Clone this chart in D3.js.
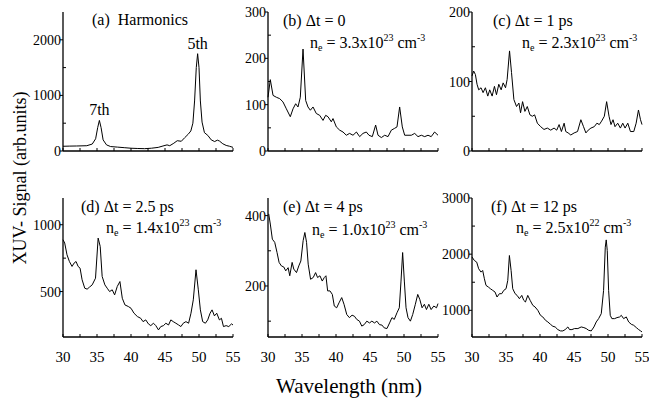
<!DOCTYPE html>
<html>
<head>
<meta charset="utf-8">
<script src="https://cdn.jsdelivr.net/npm/d3@7"></script>
<style>
  body { margin: 0; background: #fff; }
</style>
</head>
<body>
<svg id="chart" width="649" height="407"></svg>
<script>
// spectra, [wavelength nm, signal arb.units]
const harmonics = [[30,85],[31,88],[32,90],[33.5,95],[34.3,125],[34.8,220],[35.1,420],[35.35,550],[35.6,420],[35.9,200],
  [36.4,110],[37,80],[38,70],[39,60],[40,50],[41,45],[42,42],[43,50],[44,65],[44.7,90],[45.3,110],[45.7,95],[46.3,140],
  [46.8,185],[47.4,175],[47.9,240],[48.4,300],[48.8,360],[49.1,500],[49.35,900],[49.6,1500],[49.8,1750],[50,1500],
  [50.2,900],[50.45,520],[50.8,330],[51.3,280],[51.8,200],[52.3,170],[52.7,195],[53,180],[53.5,130],[54,100],[54.5,85],[55,65]];
const dt0 = [[30,116],[30.34,154],[30.74,120],[31.23,116],[31.72,113],[32.2,106],[32.7,91],[33.28,74],[33.68,91],[34.07,102],
  [34.41,95],[34.75,116],[35.15,220],[35.54,109],[35.88,95],[36.23,88],[36.62,95],[37.1,81],[37.6,77],[38.09,66],[38.48,77],
  [38.82,74],[39.31,63],[39.56,70],[40.05,52],[40.54,45],[41.03,41],[41.52,34],[42,38],[42.5,34],[43,41],[43.48,31],
  [43.97,38],[44.46,41],[44.85,34],[45.34,31],[45.83,56],[46.18,34],[46.67,29],[47.16,34],[47.65,31],[48.14,45],[48.63,49],
  [48.97,52],[49.36,95],[49.75,52],[50.1,34],[50.59,34],[51.08,34],[51.57,38],[52.06,31],[52.55,34],[53.04,31],[53.53,34],
  [54,31],[54.5,41],[55,34]];
const dt1 = [[30,108],[30.25,115],[30.5,110],[30.74,96],[30.99,88],[31.33,91],[31.63,84],[31.97,91],[32.32,79],[32.61,88],
  [32.96,79],[33.3,93],[33.6,81],[33.94,96],[34.29,88],[34.58,98],[34.93,91],[35.17,103],[35.52,144],[35.81,113],[36.16,74],
  [36.55,64],[36.9,69],[37.14,55],[37.44,71],[37.78,57],[38.13,64],[38.52,52],[38.87,50],[39.21,52],[39.61,40],[40.1,35],
  [40.59,31],[41.08,33],[41.58,30],[42.07,33],[42.46,30],[42.81,38],[43.15,28],[43.55,40],[43.79,28],[44.14,26],[44.53,23],
  [45.02,26],[45.52,28],[46.01,45],[46.4,35],[46.75,26],[47.09,30],[47.49,33],[47.98,35],[48.37,40],[48.72,38],[49.06,43],
  [49.46,50],[49.8,71],[50.15,50],[50.44,38],[50.74,45],[51.03,35],[51.43,40],[51.82,33],[52.17,40],[52.51,33],[52.91,40],
  [53.3,28],[53.79,28],[54.14,40],[54.48,59],[54.78,45],[55,38]];
const dt25 = [[30,888],[30.25,863],[30.59,775],[30.94,725],[31.33,688],[31.63,713],[31.92,725],[32.22,688],[32.51,675],
  [32.81,588],[33.2,525],[33.55,518],[33.89,533],[34.29,550],[34.78,600],[35.17,900],[35.47,838],[35.76,613],[36.16,550],
  [36.5,525],[36.85,500],[37.24,513],[37.59,475],[37.98,538],[38.37,575],[38.72,450],[39.11,400],[39.61,388],[40,375],
  [40.44,338],[40.94,313],[41.43,300],[41.77,275],[42.17,288],[42.56,258],[42.91,245],[43.3,263],[43.65,245],[44.04,213],
  [44.38,238],[44.78,245],[45.12,263],[45.52,250],[45.86,288],[46.21,275],[46.6,263],[47,250],[47.34,238],[47.68,263],
  [48.08,275],[48.47,263],[48.82,338],[49.16,438],[49.56,663],[49.9,513],[50.2,363],[50.54,275],[50.94,263],[51.28,288],
  [51.63,338],[51.92,363],[52.27,318],[52.61,338],[53,288],[53.3,300],[53.6,238],[53.99,245],[54.38,238],[54.78,258],[55,250]];
const dt4 = [[30.1,405],[30.34,376],[30.64,333],[30.99,324],[31.33,295],[31.63,267],[31.97,257],[32.32,254],[32.61,243],
  [32.96,252],[33.2,229],[33.55,267],[33.79,248],[34.19,238],[34.53,257],[34.83,271],[35.17,329],[35.42,352],[35.67,324],
  [35.91,262],[36.26,219],[36.65,224],[37,238],[37.29,224],[37.64,229],[37.98,214],[38.28,224],[38.52,229],[38.77,186],
  [39.11,186],[39.46,176],[39.75,143],[40.1,138],[40.44,152],[40.84,167],[41.18,148],[41.58,119],[41.97,110],[42.36,117],
  [42.71,114],[43.05,105],[43.45,100],[43.79,86],[44.14,90],[44.53,100],[44.93,95],[45.27,100],[45.67,95],[46.01,100],
  [46.4,90],[46.75,89],[47.09,81],[47.49,79],[47.88,95],[48.23,110],[48.57,105],[48.97,124],[49.31,138],[49.56,214],
  [49.8,295],[50.05,214],[50.3,138],[50.59,110],[50.94,100],[51.28,119],[51.67,148],[52.02,176],[52.32,162],[52.66,138],
  [53,148],[53.3,133],[53.65,148],[53.99,133],[54.38,143],[54.78,138],[55,150]];
const dt12 = [[30,1950],[30.34,1888],[30.69,1858],[30.98,1740],[31.33,1680],[31.57,1710],[31.82,1562],[32.06,1444],
  [32.41,1414],[32.7,1385],[33.05,1355],[33.39,1325],[33.68,1237],[34.03,1296],[34.37,1296],[34.67,1355],[35.01,1385],
  [35.26,1533],[35.5,1976],[35.75,1710],[35.99,1385],[36.34,1296],[36.63,1266],[36.97,1207],[37.32,1266],[37.61,1178],
  [37.86,1148],[38.2,1266],[38.55,1178],[38.94,1089],[39.28,1059],[39.68,1000],[40.07,911],[40.41,882],[40.81,822],
  [41.15,793],[41.54,751],[41.89,716],[42.23,704],[42.62,657],[43.02,633],[43.36,633],[43.7,657],[44.1,704],[44.34,657],
  [44.69,657],[45.08,675],[45.57,675],[46.06,704],[46.45,692],[46.8,675],[47.14,645],[47.53,633],[47.93,704],[48.27,793],
  [48.62,852],[49.01,941],[49.35,1355],[49.6,2124],[49.74,2254],[49.89,2065],[50.09,1355],[50.33,911],[50.57,852],
  [50.97,852],[51.32,870],[51.71,882],[51.96,911],[52.3,852],[52.69,882],[53.04,793],[53.43,751],[53.77,734],[54.17,692],
  [54.51,657],[54.8,633],[55,615]];

const series = [harmonics, dt0, dt1, dt25, dt4, dt12];
const yDomains = [[0, 2500], [0, 300], [0, 200], [160, 1200], [55, 450], [525, 3000]];
const yTicks = [[0, 1000, 2000], [0, 100, 200, 300], [0, 100, 200], [500, 1000], [200, 400], [1000, 2000, 3000]];
const yMinor = [[500, 1500], [50, 150, 250], [50, 150], [750], [100, 300], [1500, 2500]];
const xTicks = [30, 35, 40, 45, 50, 55];
const xMinor = [32.5, 37.5, 42.5, 47.5, 52.5];
const delays = ["", "0", "1 ps", "2.5 ps", "4 ps", "12 ps"];
const letters = ["a", "b", "c", "d", "e", "f"];
const densities = [null, ["3.3", "23"], ["2.3", "23"], ["1.4", "23"], ["1.0", "23"], ["2.5", "22"]];
const harmonicLabels = [["7th", 35.35, 550], ["5th", 49.8, 1750]];

const colX = [63, 268, 472], rowY = [12, 198];
const pw = 170, ph = 139;
const font = "'Liberation Serif', 'Times New Roman', 'DejaVu Serif', serif";
// text offsets inside each panel: [line1 dx, line2 dx, line2 dy]
const labelPos = [[29, 0, 0], [15, 42, 36], [21, 50, 36], [18, 43, 35], [15, 44, 37], [19, 44, 35]];

const svg = d3.select("#chart");

function txt(sel, size) {
  return sel.append("text").attr("font-family", font).attr("font-size", size).attr("fill", "#000");
}

series.forEach((data, i) => {
  const x0 = colX[i % 3], y0 = rowY[Math.floor(i / 3)];
  const g = svg.append("g").attr("transform", `translate(${x0},${y0})`);
  const x = d3.scaleLinear().domain([30, 55]).range([0, pw]);
  const y = d3.scaleLinear().domain(yDomains[i]).range([ph, 0]);

  // axes lines
  g.append("line").attr("x1", 0).attr("x2", 0).attr("y1", 0).attr("y2", ph)
    .attr("stroke", "#000").attr("stroke-width", 1.3);
  g.append("line").attr("x1", 0).attr("x2", pw).attr("y1", ph).attr("y2", ph)
    .attr("stroke", "#000").attr("stroke-width", 1.3);

  // y ticks: major outward with labels, minor inward
  yTicks[i].forEach(v => {
    g.append("line").attr("x1", -3).attr("x2", 0).attr("y1", y(v)).attr("y2", y(v)).attr("stroke", "#000");
    txt(g, 14).attr("x", -2).attr("y", y(v) + 5).attr("text-anchor", "end").text(v);
  });
  yMinor[i].forEach(v => {
    g.append("line").attr("x1", 0).attr("x2", 3).attr("y1", y(v)).attr("y2", y(v)).attr("stroke", "#000");
  });

  // x ticks inward
  xTicks.concat(xMinor).forEach(v => {
    g.append("line").attr("x1", x(v)).attr("x2", x(v)).attr("y1", ph).attr("y2", ph - 3).attr("stroke", "#000");
  });
  if (i >= 3) {
    xTicks.forEach(v => {
      txt(g, 15).attr("x", x(v)).attr("y", ph + 25).attr("text-anchor", "middle").text(v);
    });
  }

  // spectrum
  g.append("path").datum(data)
    .attr("d", d3.line().x(d => x(d[0])).y(d => y(d[1])))
    .attr("fill", "none").attr("stroke", "#000").attr("stroke-width", 1);

  // panel text
  const lp = labelPos[i];
  if (i === 0) {
    txt(g, 16).attr("x", lp[0]).attr("y", 13).attr("xml:space", "preserve").text("(a)  Harmonics");
    harmonicLabels.forEach(h => {
      txt(g, 16).attr("x", x(h[1])).attr("y", y(h[2]) - 5).attr("text-anchor", "middle").text(h[0]);
    });
  } else {
    txt(g, 16).attr("x", lp[0]).attr("y", 14).text(`(${letters[i]}) \u0394t = ${delays[i]}`);
    const t = txt(g, 16).attr("x", lp[1]).attr("y", lp[2]);
    t.append("tspan").text("n");
    t.append("tspan").attr("dy", 3).attr("font-size", 10).text("e");
    t.append("tspan").attr("dy", -3).text(` = ${densities[i][0]}x10`);
    t.append("tspan").attr("dy", -7).attr("font-size", 10).text(densities[i][1]);
    t.append("tspan").attr("dy", 7).text(" cm");
    t.append("tspan").attr("dy", -7).attr("font-size", 10).text("-3");
  }
});

// shared axis titles
txt(svg, 18).attr("transform", "translate(26,178) rotate(-90)").attr("text-anchor", "middle")
  .text("XUV- Signal (arb.units)");
txt(svg, 21).attr("x", 349).attr("y", 393).attr("text-anchor", "middle").text("Wavelength (nm)");
</script>
</body>
</html>
